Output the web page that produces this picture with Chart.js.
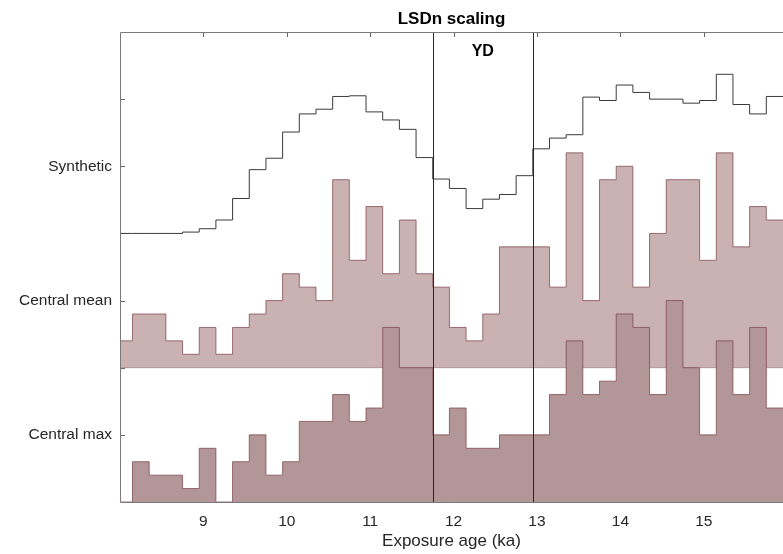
<!DOCTYPE html>
<html>
<head>
<meta charset="utf-8">
<script src="https://cdn.jsdelivr.net/npm/chart.js@4.4.0/dist/chart.umd.min.js"></script>
<style>
  html, body { margin: 0; padding: 0; background: #fff; }
  #wrap { width: 783px; height: 554px; }
</style>
</head>
<body>
<div id="wrap"><canvas id="chart" width="783" height="554"></canvas></div>
<script>
// bin lower edges (ka), bin width 0.2
const binEdges = [7.95, 8.15, 8.35, 8.55, 8.75, 8.95, 9.15, 9.35, 9.55, 9.75,
  9.95, 10.15, 10.35, 10.55, 10.75, 10.95, 11.15, 11.35, 11.55, 11.75,
  11.95, 12.15, 12.35, 12.55, 12.75, 12.95, 13.15, 13.35, 13.55, 13.75,
  13.95, 14.15, 14.35, 14.55, 14.75, 14.95, 15.15, 15.35, 15.55, 15.75, 15.95];

// heights above each row's baseline
const synthetic = [0, 0, 0, 0, 0.02, 0.07, 0.2, 0.52, 0.95, 1.12,
  1.51, 1.78, 1.85, 2.04, 2.05, 1.81, 1.69, 1.55, 1.13, 0.81,
  0.67, 0.37, 0.51, 0.58, 0.86, 1.26, 1.42, 1.47, 2.03, 1.98,
  2.21, 2.10, 2.0, 2.0, 1.94, 1.98, 2.37, 1.92, 1.78, 2.04];
const centralMean = [0.4, 0.8, 0.8, 0.4, 0.2, 0.6, 0.2, 0.6, 0.8, 1.0,
  1.4, 1.2, 1.0, 2.8, 1.6, 2.4, 1.4, 2.2, 1.4, 1.2,
  0.6, 0.4, 0.8, 1.8, 1.8, 1.8, 1.2, 3.2, 1.0, 2.8,
  3.0, 1.2, 2.0, 2.8, 2.8, 1.6, 3.2, 1.8, 2.4, 2.2];
const centralMax = [0, 0.6, 0.4, 0.4, 0.2, 0.8, 0, 0.6, 1.0, 0.4,
  0.6, 1.2, 1.2, 1.6, 1.2, 1.4, 2.6, 2.0, 2.0, 1.0,
  1.4, 0.8, 0.8, 1.0, 1.0, 1.0, 1.6, 2.4, 1.6, 1.8,
  2.8, 2.6, 1.6, 3.0, 2.0, 1.0, 2.4, 1.6, 2.6, 1.4];

const rowBase = { synthetic: 4, mean: 2, max: 0 };
const rowLabels = { 1: 'Central max', 3: 'Central mean', 5: 'Synthetic' };
const xTickValues = [9, 10, 11, 12, 13, 14, 15];
const ydBounds = [11.75, 12.95];

function stairs(values, base) {
  const pts = values.map((v, i) => ({ x: binEdges[i], y: base + v }));
  pts.push({ x: binEdges[values.length], y: base + values[values.length - 1] });
  return pts;
}

const edgeCol = 'rgba(125, 70, 75, 0.75)';
const font = "'Liberation Sans', Arial, Helvetica, sans-serif";

// MATLAB-like box and inward ticks
const axesBox = {
  id: 'axesBox',
  beforeDatasetsDraw(chart) {
    const { ctx, chartArea: a, scales: { x, y } } = chart;
    ctx.save();
    ctx.strokeStyle = '#666';
    ctx.lineWidth = 1;
    ctx.beginPath();
    for (let v = 1; v < 7; v++) {
      const py = Math.round(y.getPixelForValue(v)) + 0.5;
      ctx.moveTo(a.left, py); ctx.lineTo(a.left + 5, py);
    }
    xTickValues.forEach(v => {
      const px = Math.round(x.getPixelForValue(v)) + 0.5;
      ctx.moveTo(px, a.top); ctx.lineTo(px, a.top + 5);
      ctx.moveTo(px, a.bottom); ctx.lineTo(px, a.bottom - 5);
    });
    ctx.stroke();
    ctx.restore();
  },
  afterDatasetsDraw(chart) {
    const { ctx, chartArea: a, scales: { x } } = chart;
    ctx.save();
    ctx.strokeStyle = '#262626';
    ctx.lineWidth = 1;
    ctx.beginPath();
    ydBounds.forEach(v => {
      const px = Math.round(x.getPixelForValue(v)) + 0.5;
      ctx.moveTo(px, a.top); ctx.lineTo(px, a.bottom);
    });
    ctx.stroke();
    ctx.strokeStyle = '#7a7a7a';
    ctx.beginPath();
    ctx.moveTo(a.right + 1, a.top + 0.5);
    ctx.lineTo(a.left + 0.5, a.top + 0.5);
    ctx.lineTo(a.left + 0.5, a.bottom + 0.5);
    ctx.lineTo(a.right + 1, a.bottom + 0.5);
    ctx.stroke();
    ctx.fillStyle = '#000';
    ctx.font = 'bold 16px ' + font;
    ctx.textAlign = 'center';
    ctx.textBaseline = 'middle';
    const cx = (x.getPixelForValue(ydBounds[0]) + x.getPixelForValue(ydBounds[1])) / 2;
    ctx.fillText('YD', cx, a.top + 20);
    ctx.restore();
  }
};

new Chart(document.getElementById('chart').getContext('2d'), {
  type: 'line',
  data: {
    datasets: [
      {
        label: 'Central max',
        data: stairs(centralMax, rowBase.max),
        stepped: 'before',
        borderColor: edgeCol,
        borderWidth: 1,
        backgroundColor: '#b39798',
        fill: { value: rowBase.max },
        pointRadius: 0,
        order: 1
      },
      {
        label: 'mean base',
        data: [{ x: 7.9, y: rowBase.mean }, { x: 16, y: rowBase.mean }],
        borderColor: 'rgba(150, 110, 115, 0.6)',
        borderWidth: 1,
        fill: false,
        pointRadius: 0,
        order: 2
      },
      {
        label: 'Central mean',
        data: stairs(centralMean, rowBase.mean),
        stepped: 'before',
        borderColor: edgeCol,
        borderWidth: 1,
        backgroundColor: '#cab2b3',
        fill: { value: rowBase.mean },
        pointRadius: 0,
        order: 3
      },
      {
        label: 'Synthetic',
        data: stairs(synthetic, rowBase.synthetic),
        stepped: 'before',
        borderColor: '#3a3a3a',
        borderWidth: 1,
        fill: false,
        pointRadius: 0,
        order: 4
      }
    ]
  },
  options: {
    responsive: false,
    animation: false,
    layout: { padding: { left: 0, right: 0, top: 0, bottom: 0 } },
    plugins: {
      legend: { display: false },
      tooltip: { enabled: false },
      title: {
        display: true,
        fullSize: false,
        text: 'LSDn scaling',
        color: '#000',
        font: { family: font, size: 17, weight: 'bold' },
        padding: { top: 9, bottom: 2.6 }
      }
    },
    scales: {
      x: {
        type: 'linear',
        min: 8.0,
        max: 15.95,
        afterFit: s => { s.height = 52; },
        grid: { display: false, drawTicks: false },
        border: { display: false },
        ticks: {
          padding: 10,
          color: '#262626',
          font: { family: font, size: 15.5 },
          callback: v => String(v)
        },
        afterBuildTicks: s => { s.ticks = xTickValues.map(v => ({ value: v })); },
        title: {
          display: true,
          text: 'Exposure age (ka)',
          color: '#262626',
          font: { family: font, size: 17 },
          padding: { top: 0, bottom: 2 }
        }
      },
      y: {
        min: 0,
        max: 7,
        afterFit: s => { s.width = 120; },
        grid: { display: false, drawTicks: false },
        border: { display: false },
        ticks: {
          stepSize: 1,
          padding: 8,
          color: '#262626',
          font: { family: font, size: 15.5 },
          callback: v => rowLabels[v] || ''
        }
      }
    }
  },
  plugins: [axesBox]
});
</script>
</body>
</html>
